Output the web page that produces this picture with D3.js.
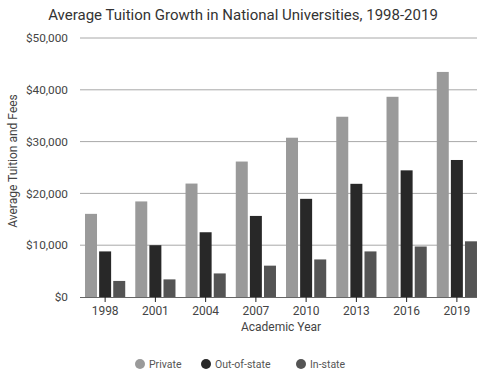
<!DOCTYPE html>
<html lang="en">
<head>
    <meta charset="utf-8">
    <title>Average Tuition Growth</title>
    <script src="https://cdn.jsdelivr.net/npm/d3@7"></script>
    <style>
        body { margin: 0; background: #fff; }
        text { font-family: Roboto, sans-serif; }
    </style>
</head>
<body>
    <div id="chart"></div>
    <script>
        const years = ["1998", "2001", "2004", "2007", "2010", "2013", "2016", "2019"];
        const seriesNames = ["Private", "Out-of-state", "In-state"];
        const privateVals = [16050, 18450, 21900, 26150, 30750, 34800, 38650, 43450];
        const outStateVals = [8800, 10000, 12500, 15650, 18950, 21850, 24450, 26450];
        const inStateVals = [3100, 3400, 4550, 6050, 7250, 8800, 9750, 10750];
        const yTicks = [0, 10000, 20000, 30000, 40000, 50000];
        const colors = ["#9a9a9a", "#282828", "#545454"];

        const width = 477;
        const height = 374;
        const margin = { left: 80, right: -5, top: 38, bottom: 77 };

        const allVals = [privateVals, outStateVals, inStateVals];
        const rows = years.map((y, i) => ({ year: y, vals: allVals.map(s => s[i]) }));

        const svg = d3.select("#chart").append("svg")
            .attr("width", width)
            .attr("height", height);

        const x0 = d3.scaleBand()
            .domain(years)
            .range([margin.left, width - margin.right])
            .paddingInner(0.2)
            .paddingOuter(0.1);

        const x1 = d3.scaleBand()
            .domain(d3.range(seriesNames.length))
            .range([0, x0.bandwidth()])
            .paddingInner(0.15);

        const y = d3.scaleLinear()
            .domain([0, 50000])
            .range([height - margin.bottom, margin.top]);

        // gridlines
        svg.append("g")
            .selectAll("line")
            .data(yTicks.filter(d => d > 0))
            .join("line")
            .attr("x1", margin.left)
            .attr("x2", width)
            .attr("y1", d => y(d))
            .attr("y2", d => y(d))
            .attr("stroke", "#a8a8a8")
            .attr("stroke-width", 1);

        // y labels
        svg.append("g")
            .selectAll("text")
            .data(yTicks)
            .join("text")
            .attr("x", 68)
            .attr("y", d => y(d))
            .attr("dy", "0.35em")
            .attr("text-anchor", "end")
            .attr("font-size", 11.8)
            .attr("fill", "#444")
            .text(d => "$" + d3.format(",")(d));

        // bars
        svg.append("g")
            .selectAll("g")
            .data(rows)
            .join("g")
            .attr("transform", d => `translate(${x0(d.year)},0)`)
            .selectAll("rect")
            .data(d => d.vals)
            .join("rect")
            .attr("x", (d, i) => x1(i))
            .attr("width", x1.bandwidth())
            .attr("y", d => y(d))
            .attr("height", d => y(0) - y(d))
            .attr("fill", (d, i) => colors[i]);

        // x axis
        const xAxis = svg.append("g")
            .attr("transform", `translate(0,${y(0)})`)
            .call(d3.axisBottom(x0).tickSize(5).tickSizeOuter(0));
        xAxis.select(".domain").attr("stroke", "#666").attr("d", `M${margin.left},0.5H${width}`);
        xAxis.selectAll(".tick line").attr("stroke", "#222");
        xAxis.selectAll(".tick text")
            .attr("font-size", 12)
            .attr("fill", "#444")
            .attr("font-family", "Roboto, sans-serif")
            .attr("dy", "0.85em");

        // title
        svg.append("text")
            .attr("x", 243)
            .attr("y", 20)
            .attr("text-anchor", "middle")
            .attr("font-size", 15)
            .attr("fill", "#333")
            .text("Average Tuition Growth in National Universities, 1998-2019");

        // axis titles
        svg.append("text")
            .attr("x", 281)
            .attr("y", 331)
            .attr("text-anchor", "middle")
            .attr("font-size", 12)
            .attr("fill", "#444")
            .text("Academic Year");

        svg.append("text")
            .attr("transform", "translate(17,161) rotate(-90)")
            .attr("text-anchor", "middle")
            .attr("font-size", 12)
            .attr("fill", "#444")
            .text("Average Tuition and Fees");

        // legend
        const legendX = [140, 206, 301];
        const legend = svg.append("g")
            .selectAll("g")
            .data(seriesNames)
            .join("g")
            .attr("transform", (d, i) => `translate(${legendX[i]},364)`);
        legend.append("circle")
            .attr("r", 5)
            .attr("fill", (d, i) => colors[i]);
        legend.append("text")
            .attr("x", 9)
            .attr("dy", "0.35em")
            .attr("font-size", 10.5)
            .attr("fill", "#555")
            .attr("font-family", "'DejaVu Sans', sans-serif")
            .text(d => d);
    </script>
</body>
</html>
